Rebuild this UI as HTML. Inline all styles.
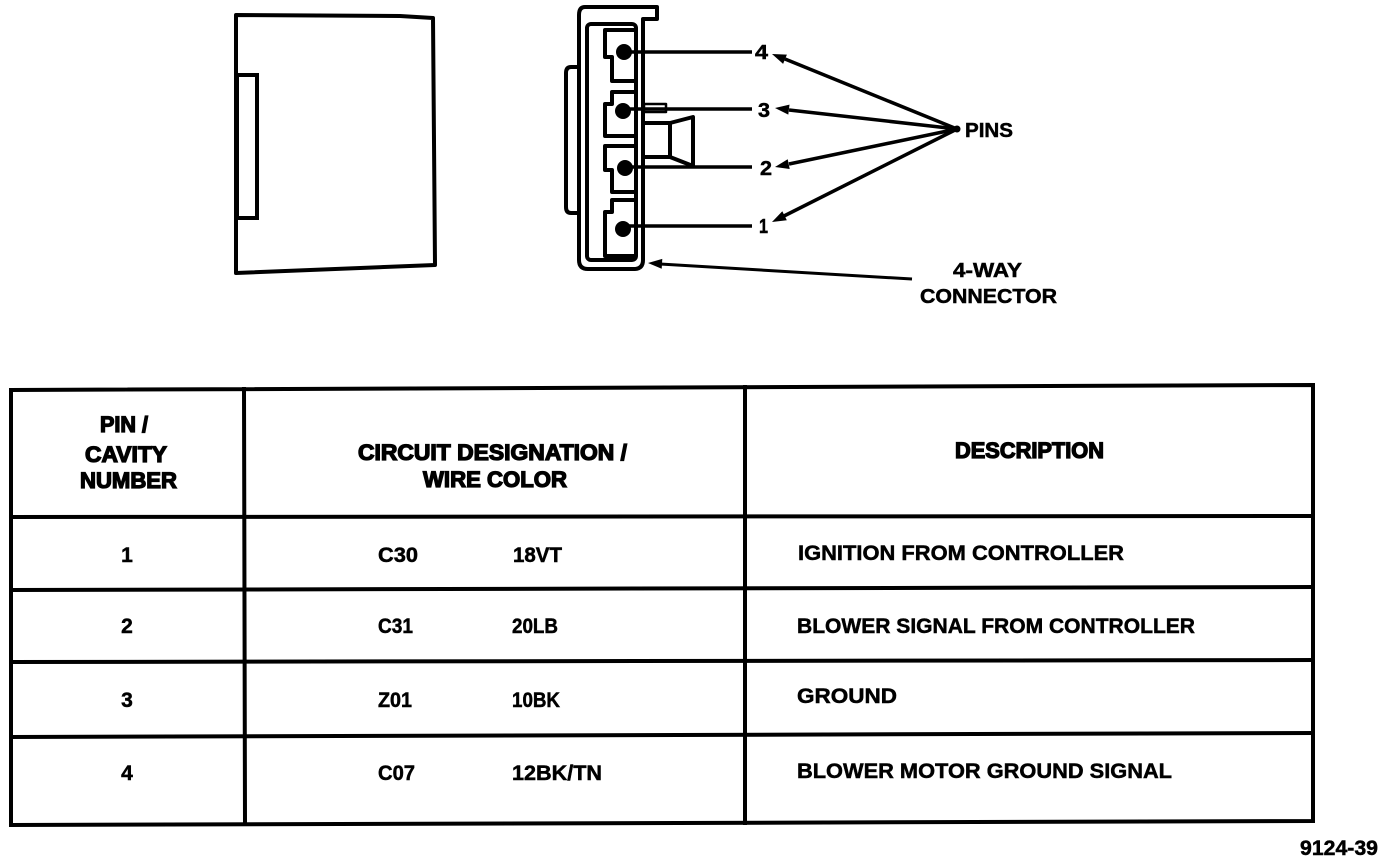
<!DOCTYPE html>
<html><head><meta charset="utf-8"><style>html,body{margin:0;padding:0;background:#fff}svg{display:block}</style></head>
<body>
<svg width="1392" height="862" viewBox="0 0 1392 862" xmlns="http://www.w3.org/2000/svg" font-family="'Liberation Sans', sans-serif" font-weight="bold">
<rect width="1392" height="862" fill="#fff"/>

<!-- left housing -->
<path d="M236,15 L400,16 L433,18 L435,265 L236,273 Z" fill="none" stroke="#000" stroke-width="4" stroke-linejoin="round"/>
<rect x="237" y="75" width="20" height="143" fill="none" stroke="#000" stroke-width="4"/>

<!-- connector -->
<g fill="none" stroke="#000" stroke-width="4" stroke-linejoin="round">
  <path d="M585,7 H657 V19 H643 V260 Q643,269 634,269 H588 Q579,269 579,260 V15 Q579,7 585,7 Z"/>
  <path d="M578,67 H571 Q566,67 566,73 V207 Q566,213 571,213 H578"/>
  <rect x="587" y="24" width="49" height="236" rx="4"/>
  <path d="M636,30 H605 V57 H612 V81 H636"/>
  <path d="M636,92 H612 V104 H605 V136 H636"/>
  <path d="M636,146 H605 V170 H612 V192 H636"/>
  <path d="M636,200 H612 V212 H605 V256 H636"/>
  <path d="M643,123 H670 V157 H643"/>
  <path d="M670,123 L693,117 V166 L670,157"/>
  <rect x="644" y="104" width="22" height="8" stroke-width="2.5"/>
</g>
<g fill="#000">
  <circle cx="624" cy="52" r="8"/>
  <circle cx="623" cy="111" r="8"/>
  <circle cx="625" cy="168" r="8"/>
  <circle cx="623" cy="229" r="8"/>
</g>
<g stroke="#000" stroke-width="3.5">
  <line x1="624" y1="52" x2="752" y2="52"/>
  <line x1="623" y1="109" x2="752" y2="109"/>
  <line x1="625" y1="167" x2="752" y2="167"/>
  <line x1="623" y1="226" x2="752" y2="226"/>
</g>
<g font-size="20" fill="#000" stroke="#000" stroke-width="0.5">
  <text x="755" y="59" textLength="13" lengthAdjust="spacingAndGlyphs">4</text>
  <text x="758" y="117" textLength="12" lengthAdjust="spacingAndGlyphs">3</text>
  <text x="760" y="175" textLength="12" lengthAdjust="spacingAndGlyphs">2</text>
  <text x="759" y="233" textLength="9" lengthAdjust="spacingAndGlyphs">1</text>
</g>

<!-- arrows to PINS -->
<g stroke="#000" stroke-width="3.5">
  <line x1="957" y1="129" x2="785" y2="59"/>
  <line x1="957" y1="129" x2="789" y2="110"/>
  <line x1="957" y1="129" x2="789" y2="164"/>
  <line x1="957" y1="129" x2="784" y2="216"/>
  <line x1="912" y1="279" x2="660" y2="264" stroke-width="3"/>
</g>
<g fill="#000">
  <polygon points="772,54 786.9,54.6 783.1,63.9"/>
  <polygon points="775,108 789.5,104.6 788.3,114.6"/>
  <polygon points="775,167 787.7,159.2 789.7,169"/>
  <polygon points="772,222 782.3,211.2 786.8,220.2"/>
  <polygon points="648,263 662.3,258.9 661.7,268.8"/>
  <circle cx="957" cy="129" r="3.5"/>
</g>
<g font-size="20" fill="#000" stroke="#000" stroke-width="0.5">
  <text x="965" y="137" textLength="48" lengthAdjust="spacingAndGlyphs">PINS</text>
  <text x="953" y="277" textLength="69" lengthAdjust="spacingAndGlyphs">4-WAY</text>
  <text x="920" y="303" textLength="137" lengthAdjust="spacingAndGlyphs">CONNECTOR</text>
</g>

<!-- table -->
<g stroke="#000" stroke-width="4" fill="none" stroke-linecap="square">
  <path d="M11,390 L1313,385 L1313,821 L11,825 Z"/>
  <line x1="244" y1="389" x2="245" y2="824"/>
  <line x1="745" y1="387" x2="745" y2="823"/>
  <line x1="11" y1="517" x2="1313" y2="516"/>
  <line x1="11" y1="590" x2="1313" y2="587"/>
  <line x1="11" y1="662" x2="1313" y2="660"/>
  <line x1="11" y1="737" x2="1313" y2="733"/>
</g>

<g font-size="22" fill="#000" stroke="#000" stroke-width="1.3">
  <text x="100" y="432" textLength="48" lengthAdjust="spacingAndGlyphs">PIN /</text>
  <text x="85" y="462" textLength="82" lengthAdjust="spacingAndGlyphs">CAVITY</text>
  <text x="80" y="488" textLength="97" lengthAdjust="spacingAndGlyphs">NUMBER</text>
  <text x="358" y="460" textLength="269" lengthAdjust="spacingAndGlyphs">CIRCUIT DESIGNATION /</text>
  <text x="423" y="487" textLength="144" lengthAdjust="spacingAndGlyphs">WIRE COLOR</text>
  <text x="955" y="458" textLength="149" lengthAdjust="spacingAndGlyphs">DESCRIPTION</text>
</g>

<g font-size="21" fill="#000" stroke="#000" stroke-width="0.5">
  <text x="127" y="562" text-anchor="middle">1</text>
  <text x="127" y="633" text-anchor="middle">2</text>
  <text x="127" y="707" text-anchor="middle">3</text>
  <text x="127" y="780" text-anchor="middle">4</text>

  <text x="378" y="562" textLength="40" lengthAdjust="spacingAndGlyphs">C30</text>
  <text x="513" y="562" textLength="49" lengthAdjust="spacingAndGlyphs">18VT</text>
  <text x="378" y="633" textLength="35" lengthAdjust="spacingAndGlyphs">C31</text>
  <text x="512" y="633" textLength="46" lengthAdjust="spacingAndGlyphs">20LB</text>
  <text x="378" y="707" textLength="34" lengthAdjust="spacingAndGlyphs">Z01</text>
  <text x="512" y="707" textLength="48" lengthAdjust="spacingAndGlyphs">10BK</text>
  <text x="378" y="780" textLength="37" lengthAdjust="spacingAndGlyphs">C07</text>
  <text x="512" y="780" textLength="90" lengthAdjust="spacingAndGlyphs">12BK/TN</text>

  <text x="798" y="560" textLength="326" lengthAdjust="spacingAndGlyphs">IGNITION FROM CONTROLLER</text>
  <text x="797" y="633" textLength="398" lengthAdjust="spacingAndGlyphs">BLOWER SIGNAL FROM CONTROLLER</text>
  <text x="797" y="703" textLength="100" lengthAdjust="spacingAndGlyphs">GROUND</text>
  <text x="797" y="778" textLength="375" lengthAdjust="spacingAndGlyphs">BLOWER MOTOR GROUND SIGNAL</text>

  <text x="1300" y="855" textLength="78" lengthAdjust="spacingAndGlyphs">9124-39</text>
</g>
</svg>
</body></html>
